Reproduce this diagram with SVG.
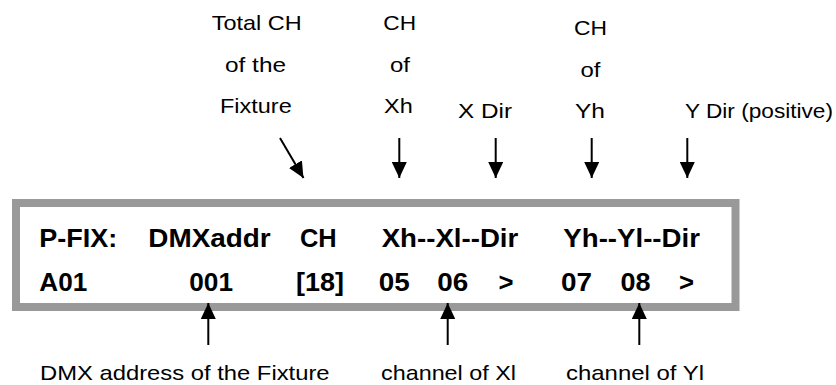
<svg xmlns="http://www.w3.org/2000/svg" width="836" height="385" viewBox="0 0 836 385">
<style>
.lbl{font-family:"Liberation Sans",Arial,sans-serif;font-size:21px;fill:#000}
.lcd{font-family:"Liberation Sans",Arial,sans-serif;font-size:25px;font-weight:bold;fill:#000}
.frame{fill:#fff;stroke:#999;stroke-width:8}
.conn line{stroke:#000;stroke-width:2}
</style>
<defs>
<marker id="ah" markerUnits="userSpaceOnUse" markerWidth="16" markerHeight="15" refX="16" refY="7.5" orient="auto">
<path d="M0,0 L16,7.5 L0,15 z" fill="#000"/>
</marker>
</defs>
<rect width="836" height="385" fill="#fff"/>
<g id="display">
<rect class="frame" x="16" y="203" width="719.5" height="104"/>
<text class="lcd" x="39.3" y="247" textLength="78" lengthAdjust="spacingAndGlyphs">P-FIX:</text>
<text class="lcd" x="148.3" y="247" textLength="122.4" lengthAdjust="spacingAndGlyphs">DMXaddr</text>
<text class="lcd" x="300" y="247" textLength="36.7" lengthAdjust="spacingAndGlyphs">CH</text>
<text class="lcd" x="381.7" y="247" textLength="136.6" lengthAdjust="spacingAndGlyphs">Xh--Xl--Dir</text>
<text class="lcd" x="563.3" y="247" textLength="136.7" lengthAdjust="spacingAndGlyphs">Yh--Yl--Dir</text>
<text class="lcd" x="39.3" y="291" textLength="48" lengthAdjust="spacingAndGlyphs">A01</text>
<text class="lcd" x="189.3" y="291" textLength="43.7" lengthAdjust="spacingAndGlyphs">001</text>
<text class="lcd" x="296" y="291" textLength="48" lengthAdjust="spacingAndGlyphs">[18]</text>
<text class="lcd" x="378.7" y="291" textLength="31" lengthAdjust="spacingAndGlyphs">05</text>
<text class="lcd" x="437.3" y="291" textLength="31" lengthAdjust="spacingAndGlyphs">06</text>
<text class="lcd" x="498.5" y="291" textLength="15" lengthAdjust="spacingAndGlyphs">&gt;</text>
<text class="lcd" x="561" y="291" textLength="31" lengthAdjust="spacingAndGlyphs">07</text>
<text class="lcd" x="620.5" y="291" textLength="30" lengthAdjust="spacingAndGlyphs">08</text>
<text class="lcd" x="679" y="291" textLength="15" lengthAdjust="spacingAndGlyphs">&gt;</text>
</g>
<g id="label-total-ch">
<text class="lbl" x="211.7" y="30" textLength="90" lengthAdjust="spacingAndGlyphs">Total CH</text>
<text class="lbl" x="225" y="72" textLength="61" lengthAdjust="spacingAndGlyphs">of the</text>
<text class="lbl" x="220" y="113" textLength="71.7" lengthAdjust="spacingAndGlyphs">Fixture</text>
</g>
<g id="label-ch-xh">
<text class="lbl" x="383.3" y="30" textLength="32.7" lengthAdjust="spacingAndGlyphs">CH</text>
<text class="lbl" x="390" y="72" textLength="20" lengthAdjust="spacingAndGlyphs">of</text>
<text class="lbl" x="384" y="113" textLength="28.7" lengthAdjust="spacingAndGlyphs">Xh</text>
</g>
<g id="label-x-dir">
<text class="lbl" x="458" y="118" textLength="54" lengthAdjust="spacingAndGlyphs">X Dir</text>
</g>
<g id="label-ch-yh">
<text class="lbl" x="574" y="35" textLength="33" lengthAdjust="spacingAndGlyphs">CH</text>
<text class="lbl" x="580.5" y="77" textLength="20" lengthAdjust="spacingAndGlyphs">of</text>
<text class="lbl" x="575" y="118" textLength="30" lengthAdjust="spacingAndGlyphs">Yh</text>
</g>
<g id="label-y-dir">
<text class="lbl" x="685" y="118" textLength="148" lengthAdjust="spacingAndGlyphs">Y Dir (positive)</text>
</g>
<g id="label-dmx-address">
<text class="lbl" x="40" y="380" textLength="289.6" lengthAdjust="spacingAndGlyphs">DMX address of the Fixture</text>
</g>
<g id="label-channel-xl">
<text class="lbl" x="381" y="380" textLength="135" lengthAdjust="spacingAndGlyphs">channel of Xl</text>
</g>
<g id="label-channel-yl">
<text class="lbl" x="566" y="380" textLength="138" lengthAdjust="spacingAndGlyphs">channel of Yl</text>
</g>
<g id="connectors" class="conn">
<line x1="280" y1="138" x2="303.5" y2="178" marker-end="url(#ah)"/>
<line x1="399.3" y1="138" x2="399.3" y2="178" marker-end="url(#ah)"/>
<line x1="495.7" y1="138" x2="495.7" y2="178" marker-end="url(#ah)"/>
<line x1="591.7" y1="138" x2="591.7" y2="178" marker-end="url(#ah)"/>
<line x1="687.3" y1="138" x2="687.3" y2="178" marker-end="url(#ah)"/>
<line x1="208.3" y1="345" x2="208.3" y2="303" marker-end="url(#ah)"/>
<line x1="447.7" y1="345" x2="447.7" y2="303" marker-end="url(#ah)"/>
<line x1="639.3" y1="345" x2="639.3" y2="303" marker-end="url(#ah)"/>
</g>
</svg>
